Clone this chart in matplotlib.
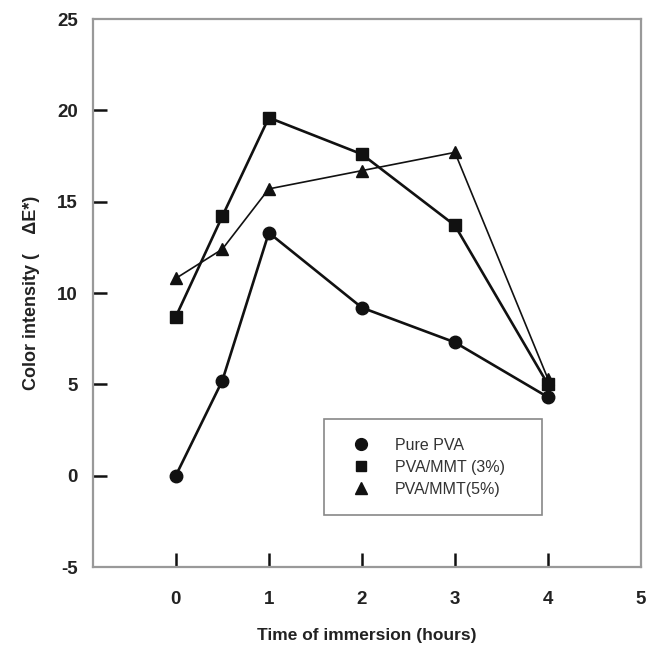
import matplotlib
matplotlib.use("Agg")
import matplotlib.pyplot as plt
from matplotlib.lines import Line2D
from matplotlib.patches import Rectangle

# данные
hours = [0, 0.5, 1, 2, 3, 4]
pure_pva = [0.0, 5.2, 13.3, 9.2, 7.3, 4.3]
mmt_3 = [8.7, 14.2, 19.6, 17.6, 13.7, 5.0]
mmt_5 = [10.8, 12.4, 15.7, 16.7, 17.7, 5.3]
labels = ["Pure PVA", "PVA/MMT (3%)", "PVA/MMT(5%)"]
x_ticks = [0, 1, 2, 3, 4, 5]
y_ticks = [-5, 0, 5, 10, 15, 20, 25]

plt.rcParams['font.family'] = ['Liberation Sans', 'DejaVu Sans']
plt.rcParams['axes.unicode_minus'] = False

fig = plt.figure(figsize=(6.47, 6.47), dpi=100)
ax = fig.add_axes([0.1437, 0.1236, 0.8470, 0.8470])

ax.plot(hours, pure_pva, color='#111111', lw=1.9, marker='o', ms=9)
ax.plot(hours, mmt_3, color='#111111', lw=1.9, marker='s', ms=8)
ax.plot(hours, mmt_5, color='#111111', lw=1.2, marker='^', ms=8.5)

ax.set_xlim(-0.89, 5)
ax.set_ylim(-5, 25)
ax.set_xticks(x_ticks)
ax.set_yticks(y_ticks)
ax.tick_params(direction='in', length=10, width=1.8, color='#111111',
               labelsize=13.5, pad=11)
ax.tick_params(axis='x', pad=17)
for lab in ax.get_xticklabels() + ax.get_yticklabels():
    lab.set_fontweight('bold')
    lab.set_color('#222222')

# крайние тики совпадают с рамкой - прячем их
ax.xaxis.get_major_ticks()[-1].tick1line.set_visible(False)
ax.yaxis.get_major_ticks()[0].tick1line.set_visible(False)
ax.yaxis.get_major_ticks()[-1].tick1line.set_visible(False)

for s in ax.spines.values():
    s.set_color('#999999')
    s.set_linewidth(1.6)

ax.set_xlabel("Time of immersion (hours)", fontsize=12.5, fontweight='bold',
              color='#222222', labelpad=15)
ax.set_ylabel("Color intensity (    ΔE*)", fontsize=13, fontweight='bold',
              color='#222222', labelpad=12)

# рамка легенды
ax.add_patch(Rectangle((0.4215, 0.0950), 0.3978, 0.1751, transform=ax.transAxes,
                       fill=False, edgecolor='#888888', lw=1.2, zorder=3))

handles = [Line2D([], [], ls='none', marker=m, color='#111111', ms=ms)
           for m, ms in [('o', 8.5), ('s', 7), ('^', 8)]]
leg = ax.legend(handles, labels, loc='upper left',
                bbox_to_anchor=(0.4745, 0.2354), fontsize=11.5, frameon=False,
                borderpad=0, borderaxespad=0, labelspacing=0.44,
                handlelength=1.0, handletextpad=1.6)
for t in leg.get_texts():
    t.set_color('#333333')

fig.savefig("out.png", dpi=100)
